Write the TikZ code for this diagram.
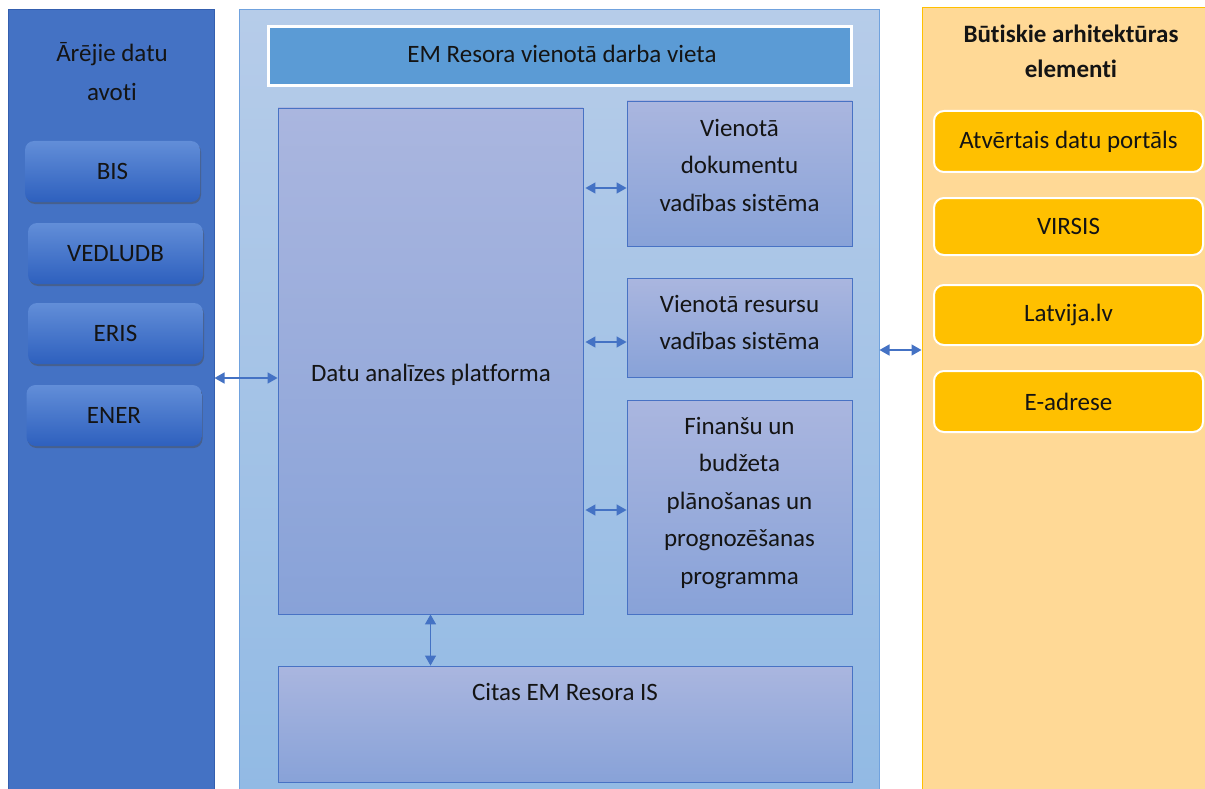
\documentclass[tikz,border=0pt]{standalone}
\usepackage{fontspec}
\setmainfont{Carlito}[Ligatures=NoCommon]
\usetikzlibrary{arrows.meta,shadows}
\definecolor{leftfill}{RGB}{68,114,196}
\definecolor{leftdraw}{RGB}{52,95,175}
\definecolor{lbtop}{RGB}{98,142,216}
\definecolor{lbbot}{RGB}{46,96,190}
\definecolor{midtop}{RGB}{182,204,233}
\definecolor{midbot}{RGB}{146,186,228}
\definecolor{middraw}{RGB}{112,162,222}
\definecolor{headfill}{RGB}{91,155,213}
\definecolor{intop}{RGB}{170,182,223}
\definecolor{inbot}{RGB}{136,162,216}
\definecolor{indraw}{RGB}{72,114,196}
\definecolor{rightfill}{RGB}{255,217,150}
\definecolor{rightdraw}{RGB}{255,192,0}
\definecolor{yellowbox}{RGB}{255,192,0}
\definecolor{arrowcol}{RGB}{68,114,196}
\definecolor{txt}{RGB}{20,20,20}
\tikzset{
  txtfont/.style={font=\fontsize{25}{37.5}\selectfont, text=txt, align=center},
  leftpanel/.style={draw=leftdraw, line width=1pt, fill=leftfill, minimum width=206pt, minimum height=779pt},
  leftbox/.style={rounded corners=9pt, top color=lbtop, bottom color=lbbot, draw=none,
     drop shadow={shadow xshift=1pt, shadow yshift=-2pt, opacity=0.45, fill=black!70},
     minimum width=175pt, minimum height=61pt, txtfont},
  midpanel/.style={draw=middraw, line width=1pt, top color=midtop, bottom color=midbot, minimum width=640pt, minimum height=779pt},
  headbox/.style={draw=white, line width=3pt, fill=headfill, minimum width=583pt, minimum height=59pt},
  inbox/.style={draw=indraw, line width=0.9pt, top color=intop, bottom color=inbot},
  rightpanel/.style={draw=rightdraw, line width=1pt, fill=rightfill, minimum width=283pt, minimum height=781pt},
  ybox/.style={draw=white, line width=2pt, fill=yellowbox, rounded corners=10pt, minimum width=269pt, txtfont},
  arr/.style={draw=arrowcol, line width=1.4pt, {Triangle[length=10pt,width=11pt]}-{Triangle[length=10pt,width=11pt]}}
}
\begin{document}
\begin{tikzpicture}[x=1pt,y=-1pt]
\useasboundingbox[fill=white] (0,0) rectangle (1205,789);
% left panel
\node[leftpanel] (left) at (111,399.5) {};
\node[txtfont, font=\fontsize{25}{39}\selectfont] (lefttitle) at (112,71.5) {Ārējie datu\\avoti};
\node[leftbox] (bis) at (112.5,171.5) {BIS};
\node[leftbox] (vedludb) at (115.5,253.5) {VEDLUDB};
\node[leftbox] (eris) at (115.5,333.5) {ERIS};
\node[leftbox] (ener) at (114,415.5) {ENER};
% middle panel
\node[midpanel] (mid) at (559,399.5) {};
\node[headbox] (head) at (559.5,56.5) {};
\node[txtfont] (headtext) at (562,54) {EM Resora vienotā darba vieta};
\node[inbox, minimum width=305pt, minimum height=506pt] (dap) at (430.5,361) {};
\node[txtfont] (daptext) at (431,375) {Datu analīzes platforma};
\node[inbox, minimum width=225pt, minimum height=145pt] (vdv) at (739.5,173.5) {};
\node[txtfont] (vdvtext) at (739.5,165) {Vienotā\\dokumentu\\vadības sistēma};
\node[inbox, minimum width=225pt, minimum height=99pt] (vrv) at (739.5,327.5) {};
\node[txtfont] (vrvtext) at (739.5,322.5) {Vienotā resursu\\vadības sistēma};
\node[inbox, minimum width=225pt, minimum height=214pt] (fin) at (739.5,507) {};
\node[txtfont] (fintext) at (739.5,503) {Finanšu un\\budžeta\\plānošanas un\\prognozēšanas\\programma};
\node[inbox, minimum width=574pt, minimum height=116pt] (cit) at (565,724) {};
\node[txtfont] (citlabel) at (565,692) {Citas EM Resora IS};
% right panel
\node[rightpanel] (right) at (1063.5,398.5) {};
\node[txtfont, font=\bfseries\fontsize{25}{35}\selectfont] (righttitle) at (1071,51.5) {Būtiskie arhitektūras\\elementi};
\node[ybox, minimum height=61pt] (adp) at (1068.5,141.5) {Atvērtais datu portāls};
\node[ybox, minimum height=57pt] (virsis) at (1068.5,226.5) {VIRSIS};
\node[ybox, minimum height=60pt] (latvija) at (1068.5,315) {Latvija.lv};
\node[ybox, minimum height=61pt] (eadrese) at (1068.5,401.5) {E-adrese};
% arrows
\draw[arr] (left.east |- 0,378) -- (dap.west |- 0,378);
\draw[arr] ([xshift=2pt]dap.east |- 0,188) -- (vdv.west |- 0,188);
\draw[arr] ([xshift=2pt]dap.east |- 0,342) -- (vrv.west |- 0,342);
\draw[arr] ([xshift=2pt]dap.east |- 0,510) -- (fin.west |- 0,510);
\draw[arr] (mid.east |- 0,350) -- (right.west |- 0,350);
\draw[arr] (dap.south) -- (dap.south |- cit.north);
\end{tikzpicture}
\end{document}
